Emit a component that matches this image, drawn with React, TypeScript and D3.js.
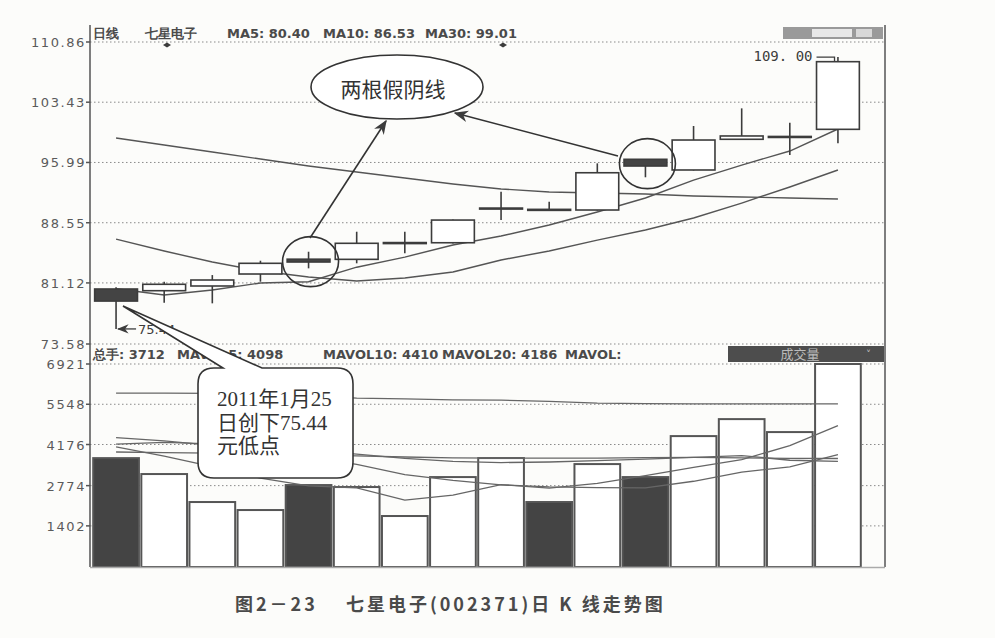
import React, { useEffect, useRef } from "react";
import * as d3 from "d3";

// daily candles, 16 sessions from 2011-01-25
const opens = [80.37, 80.16, 80.74, 82.22, 84.05, 84.03, 86.0, 86.08, 90.3, 90.2, 90.12, 96.38, 95.06, 98.85, 99.1, 100.08];
const closes = [78.88, 80.95, 81.48, 83.54, 83.7, 86.01, 86.1, 88.88, 90.36, 90.12, 94.72, 95.55, 98.76, 99.26, 99.2, 108.43];
const highs = [80.6, 81.27, 82.09, 83.86, 84.97, 87.44, 87.44, 88.95, 92.38, 91.14, 95.88, 96.4, 100.49, 102.67, 100.9, 109.0];
const lows = [75.44, 78.68, 78.6, 81.27, 82.92, 83.54, 84.77, 86.0, 88.88, 90.0, 90.05, 94.16, 95.0, 98.8, 96.91, 98.35];

const ma5 = [80.4, 79.63, 80.24, 81.11, 81.27, 83.06, 84.31, 85.8, 86.91, 88.27, 89.87, 91.6, 93.82, 95.67, 97.4, 100.12];
const ma10 = [86.53, 85.06, 83.7, 82.59, 81.85, 81.36, 81.73, 82.47, 83.95, 85.06, 86.41, 87.65, 89.13, 90.98, 92.96, 95.06];
const ma30 = [99.01, 98.15, 97.28, 96.42, 95.55, 94.81, 94.07, 93.33, 92.72, 92.34, 92.22, 92.1, 91.85, 91.73, 91.61, 91.48];

const volumes = [3712, 3169, 2215, 1942, 2794, 2726, 1738, 3066, 3714, 2215, 3509, 3066, 4463, 5042, 4600, 6921];
const mavol5 = [4098, 3780, 3420, 3030, 2766, 2700, 2283, 2453, 2808, 2692, 2848, 3114, 3393, 3659, 4136, 4818];
const mavol10 = [4410, 4300, 4150, 3950, 3750, 3500, 3150, 2950, 2800, 2729, 2709, 2699, 2923, 3233, 3414, 3833];
const mavol20 = [4186, 4250, 4200, 4100, 3980, 3850, 3700, 3600, 3560, 3580, 3630, 3680, 3740, 3800, 3640, 3600];
const mavol30 = [3920, 3900, 3880, 3850, 3820, 3790, 3750, 3720, 3714, 3714, 3714, 3730, 3740, 3720, 3700, 3700];
const mavol60 = [5930, 5930, 5920, 5900, 5850, 5760, 5730, 5700, 5690, 5650, 5590, 5570, 5560, 5560, 5560, 5560];

const priceTicks = [110.86, 103.43, 95.99, 88.55, 81.12, 73.58];
const volTicks = [6921, 5548, 4176, 2774, 1402];

const priceHeader = [
	{ text: "日线", x: 93 },
	{ text: "七星电子", x: 145 },
	{ text: "MA5: 80.40", x: 227 },
	{ text: "MA10: 86.53", x: 323 },
	{ text: "MA30: 99.01", x: 425 },
];
const volHeader = [
	{ text: "总手: 3712", x: 93 },
	{ text: "MAVOL5: 4098", x: 177 },
	{ text: "MAVOL10: 4410", x: 323 },
	{ text: "MAVOL20: 4186", x: 442 },
	{ text: "MAVOL:", x: 565 },
];

export default function App() {
	const svgRef = useRef(null);

	useEffect(() => {
		const svg = d3.select(svgRef.current);
		svg.selectAll("*").remove();

		const left = 90;
		const right = 885;
		const idx = d3.range(closes.length);
		const x = d3.scaleBand().domain(idx.map(String)).range([92, 862]);
		const xc = (i) => x(String(i)) + x.bandwidth() / 2;
		const yP = d3.scaleLinear().domain([73.58, 110.86]).range([344, 42]);
		const yV = d3.scaleLinear().domain([0, 6921]).range([567, 364]);

		const ink = "#3c3c3c";
		const sans = '"DejaVu Sans", sans-serif';

		svg.append("rect").attr("width", 995).attr("height", 638).attr("fill", "#fcfcfa");

		const defs = svg.append("defs");
		defs
			.append("marker")
			.attr("id", "head")
			.attr("viewBox", "0 0 10 10")
			.attr("refX", 9)
			.attr("refY", 5)
			.attr("markerWidth", 9)
			.attr("markerHeight", 9)
			.attr("orient", "auto")
			.append("path")
			.attr("d", "M0,1 L10,5 L0,9 L3,5 Z")
			.attr("fill", ink);

		// grid
		const grid = svg.append("g").attr("stroke", "#8a8a8a").attr("stroke-dasharray", "1.5,2.5").attr("stroke-width", 1);
		grid
			.selectAll("line.p")
			.data(priceTicks)
			.join("line")
			.attr("x1", left)
			.attr("x2", right)
			.attr("y1", (d) => yP(d))
			.attr("y2", (d) => yP(d));
		grid
			.selectAll("line.v")
			.data(volTicks)
			.join("line")
			.attr("x1", left)
			.attr("x2", right)
			.attr("y1", (d) => yV(d))
			.attr("y2", (d) => yV(d));

		// axis labels
		const axis = svg.append("g").attr("font-family", sans).attr("font-size", 13).attr("fill", "#5a5a5a").attr("letter-spacing", 1.6);
		axis
			.selectAll("text.p")
			.data(priceTicks)
			.join("text")
			.attr("x", 86)
			.attr("y", (d) => yP(d) + 5)
			.attr("text-anchor", "end")
			.text((d) => d.toFixed(2));
		axis
			.selectAll("text.v")
			.data(volTicks)
			.join("text")
			.attr("x", 86)
			.attr("y", (d) => yV(d) + 5)
			.attr("text-anchor", "end")
			.text((d) => d);

		// volume bars
		const bw = x.step() * 0.95;
		svg
			.append("g")
			.selectAll("rect")
			.data(volumes)
			.join("rect")
			.attr("x", (d, i) => xc(i) - bw / 2)
			.attr("width", bw)
			.attr("y", (d) => yV(d))
			.attr("height", (d) => yV(0) - yV(d))
			.attr("fill", (d, i) => (closes[i] < opens[i] ? "#444" : "#fff"))
			.attr("stroke", "#555")
			.attr("stroke-width", 2);

		// volume moving averages
		const vline = d3
			.line()
			.x((d, i) => xc(i))
			.y((d) => yV(d));
		svg
			.append("g")
			.attr("fill", "none")
			.attr("stroke", "#666")
			.attr("stroke-width", 1.3)
			.selectAll("path")
			.data([mavol60, mavol30, mavol20, mavol10, mavol5])
			.join("path")
			.attr("d", (d) => vline(d));

		// price moving averages
		const pline = d3
			.line()
			.x((d, i) => xc(i))
			.y((d) => yP(d));
		svg
			.append("g")
			.attr("fill", "none")
			.attr("stroke", "#555")
			.attr("stroke-width", 1.4)
			.selectAll("path")
			.data([ma30, ma10, ma5])
			.join("path")
			.attr("d", (d) => pline(d));

		// candles
		const cw = x.step() * 0.89;
		const candles = svg.append("g").attr("stroke", ink).attr("stroke-width", 1.6);
		candles
			.selectAll("line")
			.data(idx)
			.join("line")
			.attr("x1", (i) => xc(i))
			.attr("x2", (i) => xc(i))
			.attr("y1", (i) => yP(highs[i]))
			.attr("y2", (i) => yP(lows[i]));
		candles
			.selectAll("rect")
			.data(idx)
			.join("rect")
			.attr("x", (i) => xc(i) - cw / 2)
			.attr("width", cw)
			.attr("y", (i) => yP(Math.max(opens[i], closes[i])))
			.attr("height", (i) => Math.max(1, Math.abs(yP(opens[i]) - yP(closes[i]))))
			.attr("fill", (i) => (closes[i] < opens[i] ? "#444" : "#fff"));

		// frame
		const frame = svg.append("g").attr("stroke", "#555").attr("stroke-width", 1.5);
		frame.append("line").attr("x1", left).attr("x2", left).attr("y1", 25).attr("y2", 567);
		frame.append("line").attr("x1", right).attr("x2", right).attr("y1", 25).attr("y2", 567);
		frame.append("line").attr("x1", left).attr("x2", right).attr("y1", 567.5).attr("y2", 567.5).attr("stroke", "#aaa");
		frame
			.selectAll("line.t")
			.data([...priceTicks.map((d) => yP(d)), ...volTicks.map((d) => yV(d))])
			.join("line")
			.attr("x1", left - 4)
			.attr("x2", left)
			.attr("y1", (d) => d)
			.attr("y2", (d) => d);

		// headers
		svg
			.append("g")
			.attr("font-family", sans)
			.attr("font-size", 13)
			.attr("font-weight", "bold")
			.attr("fill", "#4a4a4a")
			.selectAll("text")
			.data(priceHeader)
			.join("text")
			.attr("x", (d) => d.x)
			.attr("y", 38)
			.text((d) => d.text);
		svg
			.append("g")
			.attr("font-family", sans)
			.attr("font-size", 13)
			.attr("font-weight", "bold")
			.attr("fill", "#4a4a4a")
			.selectAll("text")
			.data(volHeader)
			.join("text")
			.attr("x", (d) => d.x)
			.attr("y", 359)
			.text((d) => d.text);
		svg
			.append("g")
			.attr("fill", ink)
			.selectAll("path")
			.data([167, 503])
			.join("path")
			.attr("d", (d) => `M${d - 4},45 L${d},42.5 L${d + 4},45 L${d},47.5 Z`);

		// toolbar buttons (top right) and volume selector
		const tb = svg.append("g");
		tb.append("rect").attr("x", 783).attr("y", 27).attr("width", 100).attr("height", 12).attr("fill", "#9a9a9a");
		tb.append("rect").attr("x", 812).attr("y", 29).attr("width", 40).attr("height", 8).attr("fill", "#e8e8e8");
		tb.append("rect").attr("x", 856).attr("y", 29).attr("width", 16).attr("height", 8).attr("fill", "#d8d8d8");
		svg.append("rect").attr("x", 728).attr("y", 346).attr("width", 156).attr("height", 16).attr("fill", "#4d4d4d");
		svg
			.append("text")
			.attr("x", 800)
			.attr("y", 359)
			.attr("text-anchor", "middle")
			.attr("font-family", '"Noto Sans CJK SC", sans-serif')
			.attr("font-size", 13)
			.attr("fill", "#bbb")
			.text("成交量");
		svg.append("text").attr("x", 866).attr("y", 358).attr("font-size", 10).attr("fill", "#bbb").attr("font-family", sans).text("˅");

		// high / low marks
		const hx = xc(15) - cw / 2;
		const hy = yP(109.0);
		svg
			.append("text")
			.attr("x", hx - 4)
			.attr("y", hy + 4)
			.attr("text-anchor", "end")
			.attr("font-family", '"DejaVu Sans Mono", monospace')
			.attr("font-size", 14)
			.attr("fill", ink)
			.text("109. 00");
		svg
			.append("path")
			.attr("d", `M${hx},${hy} L${hx + 18},${hy} L${hx + 18},${hy + 5}`)
			.attr("fill", "none")
			.attr("stroke", ink)
			.attr("stroke-width", 1.3);
		const lx = xc(0);
		const ly = yP(75.44);
		svg
			.append("line")
			.attr("x1", lx + 20)
			.attr("x2", lx + 2)
			.attr("y1", ly)
			.attr("y2", ly)
			.attr("stroke", ink)
			.attr("stroke-width", 1.3)
			.attr("marker-end", "url(#head)");
		svg
			.append("text")
			.attr("x", lx + 22)
			.attr("y", ly + 5)
			.attr("font-family", sans)
			.attr("font-size", 13)
			.attr("fill", ink)
			.text("75.44");

		// annotations: circles, arrows, ellipse
		const note = svg.append("g").attr("stroke", "#333").attr("stroke-width", 1.6);
		[4, 11].forEach((i) => {
			note
				.append("ellipse")
				.attr("cx", xc(i) + 2)
				.attr("cy", yP((opens[i] + closes[i]) / 2) + 1)
				.attr("rx", 28)
				.attr("ry", 25)
				.attr("fill", "none");
		});
		note.append("line").attr("x1", 310).attr("y1", 238).attr("x2", 386).attr("y2", 121).attr("marker-end", "url(#head)");
		note.append("line").attr("x1", 618).attr("y1", 156).attr("x2", 455).attr("y2", 113).attr("marker-end", "url(#head)");
		note.append("ellipse").attr("cx", 397).attr("cy", 87).attr("rx", 86).attr("ry", 32).attr("fill", "#fff");
		svg
			.append("text")
			.attr("x", 393)
			.attr("y", 97)
			.attr("text-anchor", "middle")
			.attr("font-family", '"Noto Sans CJK SC", sans-serif')
			.attr("font-size", 21)
			.attr("fill", "#333")
			.text("两根假阴线");

		// callout for the low
		const [bx0, bx1, by0, by1, r] = [198, 353, 368, 478, 16];
		note
			.append("path")
			.attr(
				"d",
				`M${bx0 + r},${by0} L223,${by0} L123,306 L262,${by0} L${bx1 - r},${by0} Q${bx1},${by0} ${bx1},${by0 + r} ` +
					`L${bx1},${by1 - r} Q${bx1},${by1} ${bx1 - r},${by1} L${bx0 + r},${by1} Q${bx0},${by1} ${bx0},${by1 - r} ` +
					`L${bx0},${by0 + r} Q${bx0},${by0} ${bx0 + r},${by0} Z`,
			)
			.attr("fill", "#fff");
		svg
			.append("g")
			.attr("font-family", '"Liberation Serif", "Noto Sans CJK SC", serif')
			.attr("font-size", 21)
			.attr("fill", "#333")
			.selectAll("text")
			.data(["2011年1月25", "日创下75.44", "元低点"])
			.join("text")
			.attr("x", 217)
			.attr("y", (d, i) => 406 + i * 23.5)
			.text((d) => d);

		// caption
		svg
			.append("text")
			.attr("x", 235)
			.attr("y", 611)
			.attr("font-family", '"Noto Sans CJK SC", sans-serif')
			.attr("font-size", 18)
			.attr("font-weight", "bold")
			.attr("letter-spacing", 3)
			.attr("fill", "#4a4a4a")
			.text("图2－23　 七星电子(002371)日 K 线走势图");
	}, []);

	return (
		<div style={{ position: "absolute", left: 0, top: 0 }}>
			<svg ref={svgRef} width={995} height={638} style={{ display: "block" }} />
		</div>
	);
}
